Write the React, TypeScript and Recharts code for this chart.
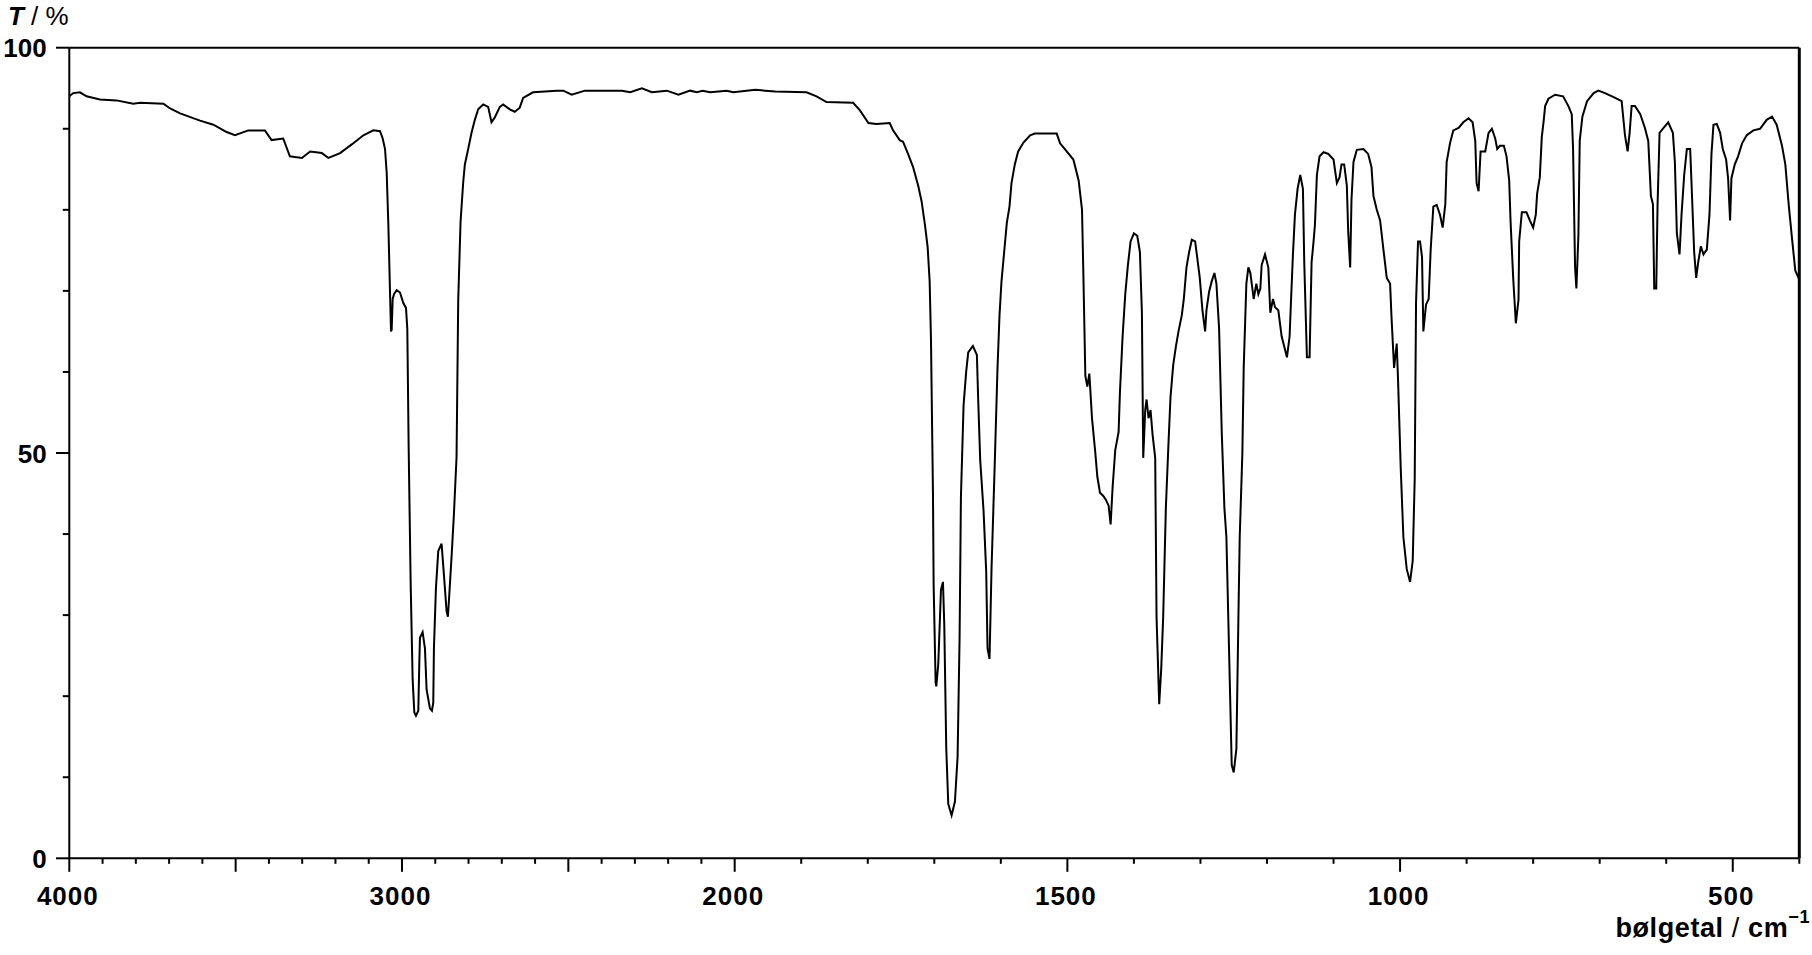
import { LineChart, Line, XAxis, YAxis, ReferenceLine, Label } from "recharts";

// IR spectrum. Wavenumber in cm-1 (descending), T in %.
const wavenumbers = [
  4000, 3988, 3968, 3948, 3908, 3858, 3808, 3787, 3717, 3697,
  3667, 3607, 3567, 3527, 3502, 3462, 3412, 3392, 3357, 3337,
  3301, 3276, 3241, 3221, 3186, 3150, 3116, 3086, 3066, 3058,
  3051, 3046, 3041, 3036, 3033, 3031, 3028, 3024, 3016, 3006,
  2996, 2988, 2984, 2980, 2974, 2968, 2963, 2958, 2951, 2948,
  2946, 2938, 2931, 2926, 2916, 2910, 2906, 2904, 2898, 2891,
  2881, 2874, 2866, 2862, 2858, 2851, 2844, 2836, 2831, 2824,
  2816, 2811, 2801, 2791, 2781, 2771, 2756, 2741, 2731, 2721,
  2706, 2696, 2676, 2661, 2646, 2636, 2606, 2535, 2515, 2490,
  2450, 2339, 2314, 2279, 2249, 2204, 2169, 2134, 2114, 2096,
  2074, 2024, 2004, 1969, 1939, 1892, 1877, 1862, 1822, 1812,
  1799, 1787, 1767, 1762, 1752, 1747, 1739, 1732, 1724, 1719,
  1714, 1710, 1707, 1705, 1702, 1701, 1698, 1697, 1694, 1690,
  1687, 1685, 1682, 1679, 1674, 1669, 1665, 1662, 1660, 1656,
  1652, 1649, 1642, 1636, 1634, 1631, 1626, 1622, 1620, 1617,
  1614, 1609, 1605, 1602, 1599, 1595, 1591, 1587, 1584, 1579,
  1574, 1566, 1556, 1549, 1516, 1511, 1501, 1491, 1483, 1478,
  1476, 1473, 1470, 1467, 1463, 1458, 1455, 1451, 1446, 1442,
  1438, 1435, 1432, 1428, 1423, 1421, 1417, 1413, 1409, 1405,
  1400, 1395, 1391, 1388, 1386, 1383, 1381, 1378, 1375, 1372,
  1368, 1366, 1362, 1359, 1356, 1352, 1348, 1345, 1341, 1337,
  1333, 1328, 1325, 1321, 1317, 1313, 1308, 1305, 1301, 1297,
  1293, 1291, 1287, 1283, 1279, 1276, 1272, 1268, 1264, 1261,
  1257, 1253, 1250, 1246, 1243, 1241, 1237, 1235, 1231, 1228,
  1225, 1220, 1216, 1213, 1210, 1208, 1203, 1198, 1195, 1191,
  1188, 1183, 1178, 1174, 1170, 1166, 1164, 1161, 1158, 1154,
  1150, 1146, 1144, 1140, 1136, 1133, 1130, 1128, 1125, 1121,
  1115, 1108, 1100, 1095, 1091, 1088, 1084, 1080, 1078, 1075,
  1073, 1070, 1065, 1055, 1048, 1043, 1040, 1035, 1030, 1025,
  1020, 1015, 1013, 1009, 1005, 1003, 999, 995, 990, 985,
  981, 978, 976, 973, 970, 967, 965, 961, 957, 954,
  950, 945, 940, 936, 932, 930, 925, 920, 912, 905,
  897, 891, 887, 885, 882, 879, 872, 867, 862, 857,
  854, 850, 844, 840, 836, 834, 830, 826, 822, 821,
  817, 810, 805, 800, 796, 794, 790, 787, 784, 782,
  777, 767, 755, 747, 742, 740, 737, 735, 732, 730,
  726, 719, 709, 702, 692, 679, 667, 662, 658, 655,
  652, 647, 639, 632, 627, 623, 620, 618, 615, 613,
  610, 604, 597, 590, 587, 584, 580, 577, 573, 569,
  564, 562, 558, 555, 552, 548, 544, 539, 535, 532,
  529, 524, 519, 515, 510, 507, 504, 502, 497, 492,
  486, 479, 469, 459, 449, 441, 434, 426, 421, 416,
  411, 406, 401, 400,
];

const transmittance = [
  94.0, 94.4, 94.5, 94.0, 93.6, 93.5, 93.1, 93.2, 93.1, 92.5,
  91.9, 91.0, 90.5, 89.6, 89.2, 89.8, 89.8, 88.6, 88.8, 86.6,
  86.4, 87.2, 87.0, 86.4, 87.0, 88.1, 89.2, 89.8, 89.7, 88.8,
  87.5, 84.6, 78.2, 69.8, 65.0, 65.2, 69.0, 69.6, 70.1, 69.8,
  68.5, 67.9, 65.3, 50.8, 34.0, 22.1, 18.0, 17.6, 18.2, 24.0,
  27.2, 27.9, 25.9, 20.8, 18.5, 18.2, 19.2, 25.9, 33.3, 37.9,
  38.8, 35.0, 30.5, 29.8, 32.4, 37.2, 42.4, 49.5, 68.8, 78.5,
  83.4, 85.6, 87.5, 89.5, 91.1, 92.4, 93.0, 92.7, 90.8, 91.4,
  92.7, 93.0, 92.4, 92.1, 92.6, 93.8, 94.5, 94.7, 94.7, 94.2,
  94.7, 94.7, 94.5, 95.0, 94.5, 94.7, 94.2, 94.7, 94.5, 94.7,
  94.5, 94.7, 94.5, 94.8, 94.6, 94.5, 94.0, 93.3, 93.2, 92.3,
  90.7, 90.6, 90.7, 89.8, 88.6, 88.4, 86.8, 85.3, 82.9, 81.0,
  78.1, 75.4, 71.2, 64.0, 45.0, 33.7, 21.7, 21.2, 24.0, 33.1,
  34.1, 28.8, 13.5, 6.7, 5.3, 7.0, 12.5, 27.2, 44.5, 55.9,
  60.1, 62.4, 63.2, 62.1, 56.5, 49.1, 42.9, 35.4, 25.9, 24.6,
  35.7, 49.1, 60.5, 67.0, 71.2, 74.8, 78.4, 80.4, 83.3, 85.6,
  87.2, 88.3, 89.2, 89.4, 89.4, 88.2, 87.2, 86.2, 83.6, 80.0,
  72.2, 59.5, 58.2, 59.8, 54.3, 50.0, 47.1, 45.1, 44.7, 44.2,
  43.5, 41.2, 45.8, 50.4, 52.6, 57.5, 64.4, 69.6, 73.2, 76.1,
  77.1, 76.8, 74.8, 67.3, 49.4, 55.3, 56.6, 54.3, 55.3, 52.3,
  49.4, 29.8, 19.0, 23.3, 29.8, 43.2, 51.3, 56.9, 60.8, 63.1,
  65.0, 67.0, 69.0, 72.9, 74.8, 76.3, 76.1, 74.2, 71.6, 67.6,
  65.0, 67.6, 69.9, 71.2, 72.2, 70.9, 65.4, 52.6, 43.2, 39.6,
  25.6, 11.5, 10.6, 13.5, 29.5, 39.6, 50.0, 60.5, 70.9, 72.9,
  72.2, 69.0, 70.9, 69.6, 70.3, 73.2, 74.5, 72.9, 67.3, 69.0,
  68.0, 67.6, 64.4, 63.1, 61.8, 64.4, 68.6, 74.5, 79.4, 82.6,
  84.3, 82.6, 73.5, 61.8, 61.8, 73.5, 76.1, 78.1, 84.3, 86.6,
  87.1, 86.9, 86.2, 83.3, 84.0, 85.6, 85.6, 83.0, 77.4, 72.9,
  81.3, 85.9, 87.4, 87.5, 86.9, 85.3, 81.7, 80.0, 78.7, 75.1,
  71.6, 70.9, 67.0, 60.5, 63.5, 58.9, 48.1, 39.6, 35.7, 34.1,
  36.7, 46.8, 68.6, 76.1, 76.1, 74.2, 65.0, 68.3, 69.0, 75.1,
  80.4, 80.6, 79.4, 77.8, 80.7, 85.9, 88.2, 89.8, 90.1, 90.8,
  91.3, 90.8, 88.5, 83.3, 82.3, 87.2, 87.2, 89.5, 90.0, 88.8,
  87.5, 87.9, 87.9, 86.6, 83.6, 78.7, 71.6, 66.0, 68.9, 76.1,
  79.7, 79.7, 78.7, 77.8, 79.4, 82.0, 84.0, 89.0, 91.1, 92.8,
  93.7, 94.2, 94.0, 92.8, 91.8, 87.5, 72.9, 70.3, 76.8, 88.5,
  91.5, 93.4, 94.4, 94.7, 94.4, 93.9, 93.4, 89.2, 87.2, 89.5,
  92.8, 92.8, 91.8, 90.1, 88.5, 81.7, 80.7, 70.3, 70.3, 80.7,
  89.5, 90.1, 90.8, 89.5, 85.9, 77.1, 74.5, 79.4, 84.3, 87.5,
  87.5, 83.3, 74.8, 71.6, 73.5, 75.5, 74.5, 75.1, 79.4, 86.9,
  90.5, 90.6, 89.5, 87.5, 86.2, 83.9, 78.7, 83.9, 85.6, 86.6,
  88.2, 89.2, 89.8, 90.0, 91.1, 91.5, 90.5, 87.9, 85.6, 80.7,
  76.5, 72.5, 71.6, 71.6,
];

// x ticks every 100 cm-1, labels on a few
const xTicks = [
  4000, 3900, 3800, 3700, 3600, 3500, 3400, 3300, 3200, 3100,
  3000, 2900, 2800, 2700, 2600, 2500, 2400, 2300, 2200, 2100,
  2000, 1900, 1800, 1700, 1600, 1500, 1400, 1300, 1200, 1100,
  1000, 900, 800, 700, 600, 500, 400,
];
const xLabels = [4000, 3000, 2000, 1500, 1000, 500];
const yTicks = [0, 10, 20, 30, 40, 50, 60, 70, 80, 90, 100];
const yLabels = [0, 50, 100];

const FONT = '"Liberation Sans", Arial, Helvetica, sans-serif';

// scale halves above 2000 cm-1, like the spectrometer printout
const toPos = (wn: number) => (wn >= 2000 ? (4000 - wn) / 2 : 1000 + (2000 - wn));
const fromPos = (p: number) => (p <= 1000 ? 4000 - 2 * p : 2000 - (p - 1000));

const data = wavenumbers.map((wn, i) => ({ pos: toPos(wn), t: transmittance[i] }));

function XTick({ x, y, payload }: any) {
  const wn = Math.round(fromPos(payload.value));
  const major = wn % 500 === 0;
  return (
    <g>
      <line x1={x} x2={x} y1={y} y2={y + (major ? 13.5 : 5.5)} stroke="#000" strokeWidth={2} />
      {xLabels.includes(wn) && (
        <text
          x={x - 1.5}
          y={y + 46.7}
          textAnchor="middle"
          fontFamily={FONT}
          fontSize={26}
          fontWeight="bold"
          letterSpacing={1}
          fill="#000"
        >
          {wn}
        </text>
      )}
    </g>
  );
}

function YTick({ x, y, payload }: any) {
  const v = payload.value;
  const major = yLabels.includes(v);
  return (
    <g>
      <line x1={x} x2={x - (major ? 13.3 : 6.5)} y1={y} y2={y} stroke="#000" strokeWidth={2} />
      {major && (
        <text x={x - 22.6} y={y + 9.6} textAnchor="end" fontFamily={FONT} fontSize={26} fontWeight="bold" fill="#000">
          {v}
        </text>
      )}
    </g>
  );
}

export default function App() {
  return (
    <div style={{ position: "absolute", left: 0, top: 0, width: 1812, height: 955, background: "#fff" }}>
      <LineChart
        width={1812}
        height={955}
        data={data}
        margin={{ top: 47.7, right: 12.7, left: 9.3, bottom: 36.7 }}
      >
        <XAxis
          dataKey="pos"
          type="number"
          domain={[0, 2600]}
          ticks={xTicks.map(toPos)}
          interval={0}
          tick={<XTick />}
          tickLine={false}
          tickSize={0}
          tickMargin={0}
          height={60}
          axisLine={{ stroke: "#000", strokeWidth: 2 }}
        >
          <Label
            content={({ viewBox }: any) => (
              <text
                x={viewBox.x + viewBox.width + 10.7}
                y={viewBox.y + 79}
                textAnchor="end"
                fontFamily={FONT}
                fontSize={27}
                letterSpacing={0.6}
                fill="#000"
              >
                <tspan fontWeight="bold">bølgetal</tspan>
                <tspan> / </tspan>
                <tspan fontWeight="bold">cm</tspan>
                <tspan fontWeight="bold" fontSize={18} dy={-14}>−1</tspan>
              </text>
            )}
          />
        </XAxis>
        <YAxis
          type="number"
          domain={[0, 100]}
          ticks={yTicks}
          interval={0}
          tick={<YTick />}
          tickLine={false}
          tickSize={0}
          tickMargin={0}
          width={60}
          axisLine={{ stroke: "#000", strokeWidth: 2 }}
        >
          <Label
            content={({ viewBox }: any) => (
              <text x={viewBox.x - 1.3} y={viewBox.y - 22.7} fontFamily={FONT} fontSize={26} fill="#000">
                <tspan fontWeight="bold" fontStyle="italic">T</tspan>
                <tspan> / %</tspan>
              </text>
            )}
          />
        </YAxis>
        <ReferenceLine y={100} stroke="#000" strokeWidth={2} />
        <ReferenceLine x={2600} stroke="#000" strokeWidth={3} />
        <Line
          type="linear"
          dataKey="t"
          stroke="#000"
          strokeWidth={2}
          dot={false}
          activeDot={false}
          isAnimationActive={false}
        />
      </LineChart>
    </div>
  );
}
